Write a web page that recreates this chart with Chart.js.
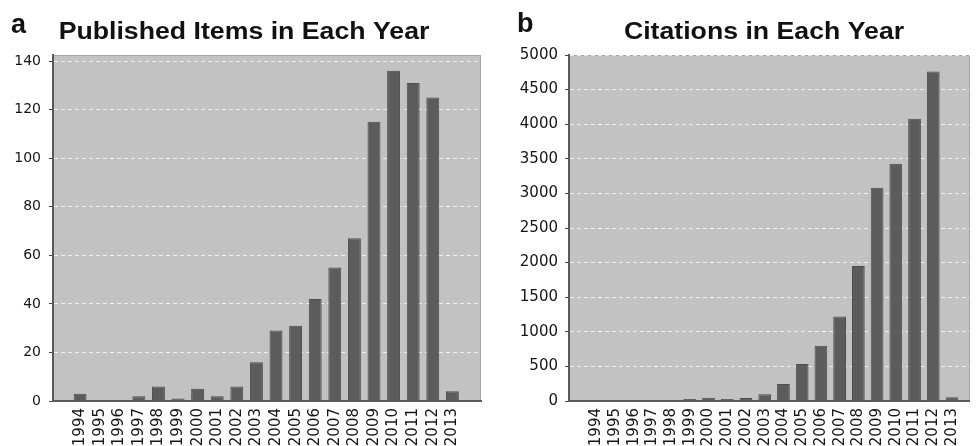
<!DOCTYPE html>
<html>
<head>
<meta charset="utf-8">
<script src="https://cdn.jsdelivr.net/npm/chart.js@4.4.1/dist/chart.umd.min.js"></script>
<style>
  html, body { margin: 0; padding: 0; background: #ffffff; overflow: hidden; }
  body { width: 977px; height: 446px; position: relative; }
  canvas { position: absolute; top: 0; }
  #chartA { left: 0; }
  #chartB { left: 487px; }
</style>
</head>
<body>
<canvas id="chartA" width="487" height="446"></canvas>
<canvas id="chartB" width="490" height="446"></canvas>
<script>
// ---- data ----
const years = [1994,1995,1996,1997,1998,1999,2000,2001,2002,2003,2004,2005,2006,2007,2008,2009,2010,2011,2012,2013];
const publishedItems = [3,0,0,2,6,1,5,2,6,16,29,31,42,55,67,115,136,131,125,4];
const citations = [0,0,0,0,0,30,48,30,45,96,245,535,800,1220,1950,3080,3430,4080,4760,55];
const ticksA = [0,20,40,60,80,100,120,140];
const ticksB = [0,500,1000,1500,2000,2500,3000,3500,4000,4500,5000];
const titleA = 'Published Items in Each Year';
const titleB = 'Citations in Each Year';

Chart.defaults.font.family = "'DejaVu Sans', sans-serif";
Chart.defaults.font.size = 14;
Chart.defaults.color = '#161616';

const panelPlugin = {
  id: 'panel',
  beforeDraw(chart, args, opts) {
    const {ctx, chartArea: a} = chart;
    ctx.save();
    ctx.fillStyle = '#c2c2c2';
    ctx.fillRect(a.left, a.top, a.right - a.left, a.bottom - a.top);
    ctx.strokeStyle = '#a4a4a4';
    ctx.lineWidth = 1;
    ctx.beginPath();
    ctx.moveTo(a.left, a.top + 0.5);
    ctx.lineTo(a.right - 0.5, a.top + 0.5);
    ctx.lineTo(a.right - 0.5, a.bottom);
    ctx.stroke();
    ctx.restore();
  },
  afterDraw(chart, args, opts) {
    const {ctx} = chart;
    ctx.save();
    ctx.fillStyle = '#111';
    ctx.textBaseline = 'alphabetic';
    ctx.textAlign = 'left';
    ctx.font = "bold 27px 'Liberation Sans', Arial, sans-serif";
    ctx.fillText(opts.letter, opts.letterX, opts.letterY);
    ctx.font = "bold 23px 'Liberation Sans', Arial, sans-serif";
    ctx.translate(opts.titleX, opts.titleY);
    ctx.scale(1.16, 1);
    ctx.textAlign = 'center';
    ctx.fillText(opts.title, 0, 0);
    ctx.restore();
  }
};

function makeChart(id, values, yTicks, yMax, xMin, xMax, yWidth, padRight, catPct, yFont, yPad, panel) {
  return new Chart(document.getElementById(id), {
    type: 'bar',
    data: {
      datasets: [{
        data: years.map((yr, i) => ({x: yr, y: values[i]})),
        backgroundColor: '#5c5c5c',
        borderColor: '#4e4e4e',
        borderWidth: 1,
        barPercentage: 1,
        categoryPercentage: catPct
      }]
    },
    options: {
      responsive: false,
      animation: false,
      layout: { padding: { top: 55, left: 0, right: padRight, bottom: 0 } },
      plugins: { legend: { display: false }, tooltip: { enabled: false }, title: { display: false }, panel: panel },
      scales: {
        x: {
          type: 'linear',
          min: xMin,
          max: xMax,
          offset: false,
          afterBuildTicks: s => { s.ticks = years.map(v => ({value: v})); },
          afterFit: s => { s.height = 45; },
          grid: { display: false, drawTicks: false },
          border: { display: true, color: '#5a5a5a', width: 2 },
          ticks: {
            autoSkip: false,
            minRotation: 90,
            maxRotation: 90,
            padding: 7,
            font: { size: 15 },
            callback: v => String(v)
          }
        },
        y: {
          min: 0,
          max: yMax,
          afterBuildTicks: s => { s.ticks = yTicks.map(v => ({value: v})); },
          afterFit: s => { s.width = yWidth; },
          grid: {
            color: 'rgba(240,240,240,0.95)',
            lineWidth: 1,
            tickColor: '#444',
            tickLength: 4,
            tickBorderDash: [],
            drawOnChartArea: true
          },
          border: { display: true, color: '#5a5a5a', width: 2, dash: [4, 3] },
          ticks: {
            padding: yPad,
            font: { size: yFont },
            callback: v => String(v)
          }
        }
      }
    },
    plugins: [panelPlugin]
  });
}

makeChart('chartA', publishedItems, ticksA, 142.5, 1992.62, 2014.46, 53, 6, 0.66, 14, 8,
  { letter: 'a', letterX: 11, letterY: 33, title: titleA, titleX: 244, titleY: 39 });
makeChart('chartB', citations, ticksB, 5000, 1992.55, 2013.96, 82, 0, 0.68, 15, 7,
  { letter: 'b', letterX: 30, letterY: 32, title: titleB, titleX: 277, titleY: 39 });
</script>
</body>
</html>
